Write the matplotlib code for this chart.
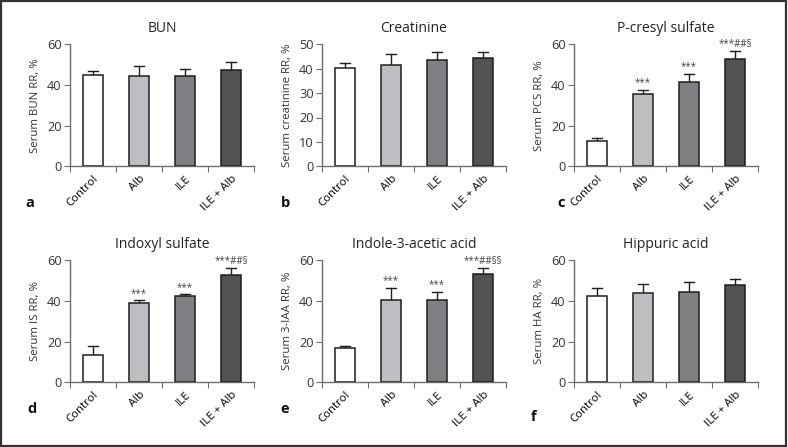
import matplotlib
matplotlib.use("Agg")
import matplotlib.pyplot as plt
from matplotlib.patches import Rectangle

plt.rcParams['font.family'] = ['Open Sans', 'DejaVu Sans']

groups = ['Control', 'Alb', 'ILE', 'ILE + Alb']
colors = ['#ffffff', '#bdbec1', '#7f8083', '#525355']

# mean values and top of error bar (upper whisker) for each panel
bun_mean = [44.9, 44.6, 44.3, 47.5]
bun_err = [47.0, 49.5, 47.7, 51.5]
crea_mean = [40.4, 41.4, 43.4, 44.2]
crea_err = [42.3, 46.0, 46.7, 46.7]
pcs_mean = [12.4, 35.4, 41.5, 52.6]
pcs_err = [13.9, 37.5, 45.4, 56.6]
is_mean = [13.6, 39.0, 42.2, 52.8]
is_err = [17.7, 40.4, 43.2, 56.2]
iaa_mean = [16.7, 40.4, 40.7, 53.3]
iaa_err = [17.8, 46.6, 44.4, 56.1]
ha_mean = [42.3, 44.1, 44.4, 47.9]
ha_err = [46.6, 48.5, 49.5, 51.0]

pcs_sig = ['', '***', '***', '***##§']
is_sig = ['', '***', '***', '***##§']
iaa_sig = ['', '***', '***', '***##§§']
no_sig = ['', '', '', '']

panels = [
    ('BUN', 'Serum BUN RR, %', bun_mean, bun_err, no_sig, 60, [0, 20, 40, 60], 'a'),
    ('Creatinine', 'Serum creatinine RR, %', crea_mean, crea_err, no_sig, 50, [0, 10, 20, 30, 40, 50], 'b'),
    ('P-cresyl sulfate', 'Serum PCS RR, %', pcs_mean, pcs_err, pcs_sig, 60, [0, 20, 40, 60], 'c'),
    ('Indoxyl sulfate', 'Serum IS RR, %', is_mean, is_err, is_sig, 60, [0, 20, 40, 60], 'd'),
    ('Indole-3-acetic acid', 'Serum 3-IAA RR, %', iaa_mean, iaa_err, iaa_sig, 60, [0, 20, 40, 60], 'e'),
    ('Hippuric acid', 'Serum HA RR, %', ha_mean, ha_err, no_sig, 60, [0, 20, 40, 60], 'f'),
]

W, H = 788, 447
fig = plt.figure(figsize=(W / 100, H / 100), dpi=100)
fig.patches.append(Rectangle((0.001, 0.002), 0.997, 0.996, transform=fig.transFigure,
                             fill=False, edgecolor='#333333', linewidth=1.6))

lefts = [70, 322, 574]
bottoms = [447 - 166.3, 447 - 382.3]
axw, axh = 184, 122
spine_col = '#6e6e6e'
# panel letter positions in pixels (from top-left)
letter_pos = [(30, 203), (285, 203), (561, 203), (32, 409), (285, 409), (534, 417)]

for i, (title, ylabel, mean, err, sig, ymax, yt, letter) in enumerate(panels):
    row, col = divmod(i, 3)
    ax = fig.add_axes([lefts[col] / W, bottoms[row] / H, axw / W, axh / H])
    x = [k + 0.5 for k in range(4)]
    ax.bar(x, mean, width=0.43, color=colors, edgecolor='#1e1e1e', linewidth=1.1, zorder=3)
    for xi, m, e, s in zip(x, mean, err, sig):
        ax.plot([xi, xi], [m, e], color='#1e1e1e', lw=1.0, zorder=2)
        ax.plot([xi - 0.11, xi + 0.11], [e, e], color='#1e1e1e', lw=1.0, zorder=2)
        if s:
            ax.text(xi, e + ymax * 0.012, s, ha='center', va='bottom', fontsize=7,
                    color='#444444')
    ax.set_xlim(0, 4)
    ax.set_ylim(0, ymax)
    ax.set_yticks(yt)
    ax.set_xticks([0, 1, 2, 3, 4])
    ax.set_xticklabels([])
    ax.set_xticks(x, minor=True)
    ax.set_xticklabels(groups, minor=True, rotation=45, ha='right', rotation_mode='anchor',
                       fontsize=8.2)
    ax.tick_params(axis='x', which='minor', length=0, pad=5)
    ax.tick_params(axis='x', which='major', length=4, direction='out', color=spine_col)
    ax.tick_params(axis='y', length=4, direction='out', color=spine_col, labelsize=9.2,
                   pad=2, labelcolor='#333333')
    ax.tick_params(axis='x', labelcolor='#333333')
    for sp in ['top', 'right']:
        ax.spines[sp].set_visible(False)
    for sp in ['left', 'bottom']:
        ax.spines[sp].set_color(spine_col)
        ax.spines[sp].set_linewidth(1.0)
    ax.set_ylabel(ylabel, fontsize=8.2, color='#333333', labelpad=4)
    ax.set_title(title, fontsize=10, color='#222222', pad=9)
    lx, ly = letter_pos[i]
    fig.text(lx / W, 1 - ly / H, letter, fontsize=10.5, fontweight='bold', color='#111111',
             ha='center', va='center')

fig.savefig('out.png', dpi=100)
